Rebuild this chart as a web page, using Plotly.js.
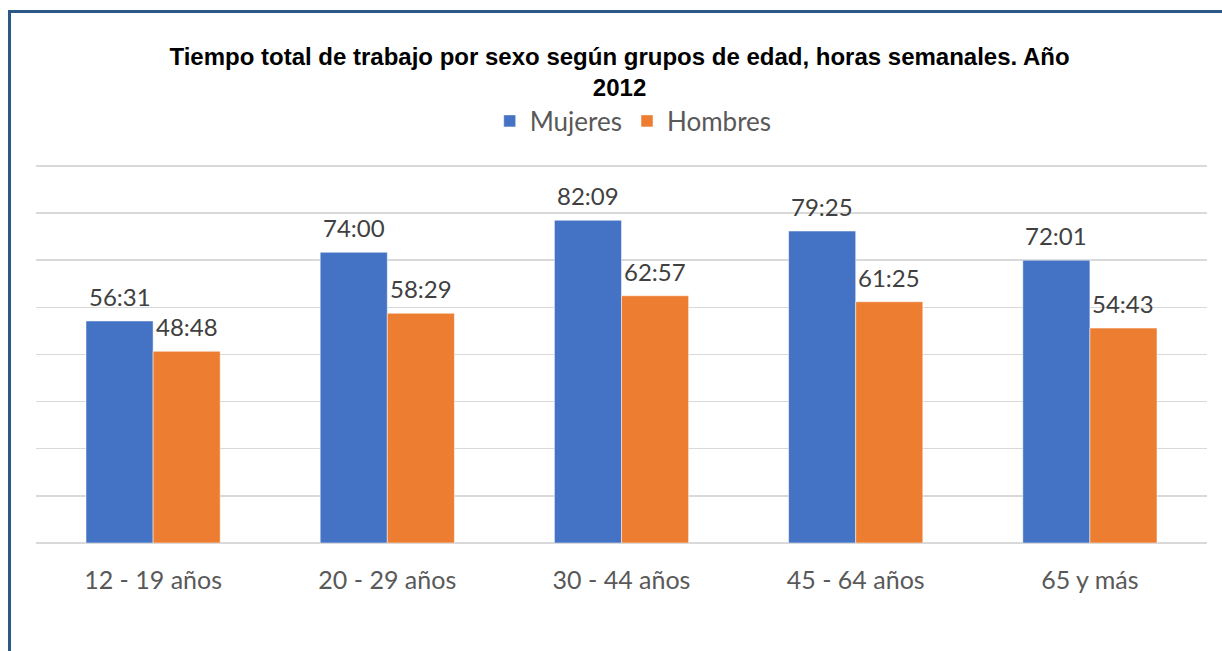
<!DOCTYPE html>
<html>
<head>
<meta charset="utf-8">
<script src="https://cdn.plot.ly/plotly-3.0.1.min.js"></script>
<style>
  html, body { margin: 0; padding: 0; overflow: hidden; background: #fff; }
  #chart { width: 1222px; height: 651px; }
</style>
</head>
<body>
<div id="chart"></div>
<script>
const categories = ["12 - 19 años", "20 - 29 años", "30 - 44 años", "45 - 64 años", "65 y más"];
const mujeresLabels = ["56:31", "74:00", "82:09", "79:25", "72:01"];
const hombresLabels = ["48:48", "58:29", "62:57", "61:25", "54:43"];

function toHours(s) { const p = s.split(":"); return Number(p[0]) + Number(p[1]) / 60; }
const mujeres = mujeresLabels.map(toHours);
const hombres = hombresLabels.map(toHours);

const labelFont = { family: "Lato, 'Open Sans', sans-serif", size: 24, color: "#404040" };

const traces = [
  { type: "bar", name: "Mujeres", x: categories, y: mujeres,
    marker: { color: "#4472C4", line: { color: "#ffffff", width: 0.5 } }, hoverinfo: "skip" },
  { type: "bar", name: "Hombres", x: categories, y: hombres,
    marker: { color: "#ED7D31", line: { color: "#ffffff", width: 0.5 } }, hoverinfo: "skip" }
];

const annotations = [];
categories.forEach((c, i) => {
  annotations.push({ x: c, y: mujeres[i], xref: "x", yref: "y", text: mujeresLabels[i],
    showarrow: false, xanchor: "center", yanchor: "bottom", xshift: -33.5, yshift: 8, font: labelFont });
  annotations.push({ x: c, y: hombres[i], xref: "x", yref: "y", text: hombresLabels[i],
    showarrow: false, xanchor: "center", yanchor: "bottom", xshift: 33.5, yshift: 8, font: labelFont });
});

const frameColor = "#2B5884";
const shapes = [
  { type: "line", xref: "paper", yref: "paper", x0: -0.02263, x1: -0.02263, y0: -0.30, y1: 1.3986,
    line: { color: frameColor, width: 3 } },
  { type: "line", xref: "paper", yref: "paper", x0: -0.0239, x1: 1.02, y0: 1.3947, y1: 1.3947,
    line: { color: frameColor, width: 3 } }
];

const layout = {
  width: 1222, height: 651,
  paper_bgcolor: "#ffffff", plot_bgcolor: "#ffffff",
  margin: { l: 36, r: 15, t: 162, b: 108 },
  barmode: "group", bargap: 0.427, bargroupgap: 0,
  title: {
    text: "<b>Tiempo total de trabajo por sexo según grupos de edad, horas semanales. Año<br>2012</b>",
    font: { family: "'Liberation Sans', Arial, sans-serif", size: 24, color: "#000000" },
    x: 0.507, xanchor: "center", xref: "container",
    y: 1 - 65 / 651, yanchor: "top", yref: "container"
  },
  showlegend: true,
  legend: {
    orientation: "h", x: 0.51, xanchor: "center", y: 1.1076, yanchor: "middle",
    font: { family: "Lato, 'Open Sans', sans-serif", size: 26, color: "#595959" },
    traceorder: "normal", itemwidth: 30
  },
  xaxis: {
    type: "category", showgrid: false, showline: false, zeroline: false, ticks: "",
    tickfont: { family: "Lato, 'Open Sans', sans-serif", size: 25, color: "#595959" },
    ticklabelstandoff: 20
  },
  yaxis: {
    range: [0, 97], dtick: 12, tick0: 0, showticklabels: false, ticks: "",
    showgrid: true, gridcolor: "#d9d9d9", gridwidth: 1.5,
    zeroline: true, zerolinecolor: "#d9d9d9", zerolinewidth: 1.5, showline: false
  },
  annotations: annotations,
  shapes: shapes,
  font: { family: "Lato, 'Open Sans', sans-serif" }
};

Plotly.newPlot("chart", traces, layout, { displayModeBar: false, staticPlot: true });
</script>
</body>
</html>
